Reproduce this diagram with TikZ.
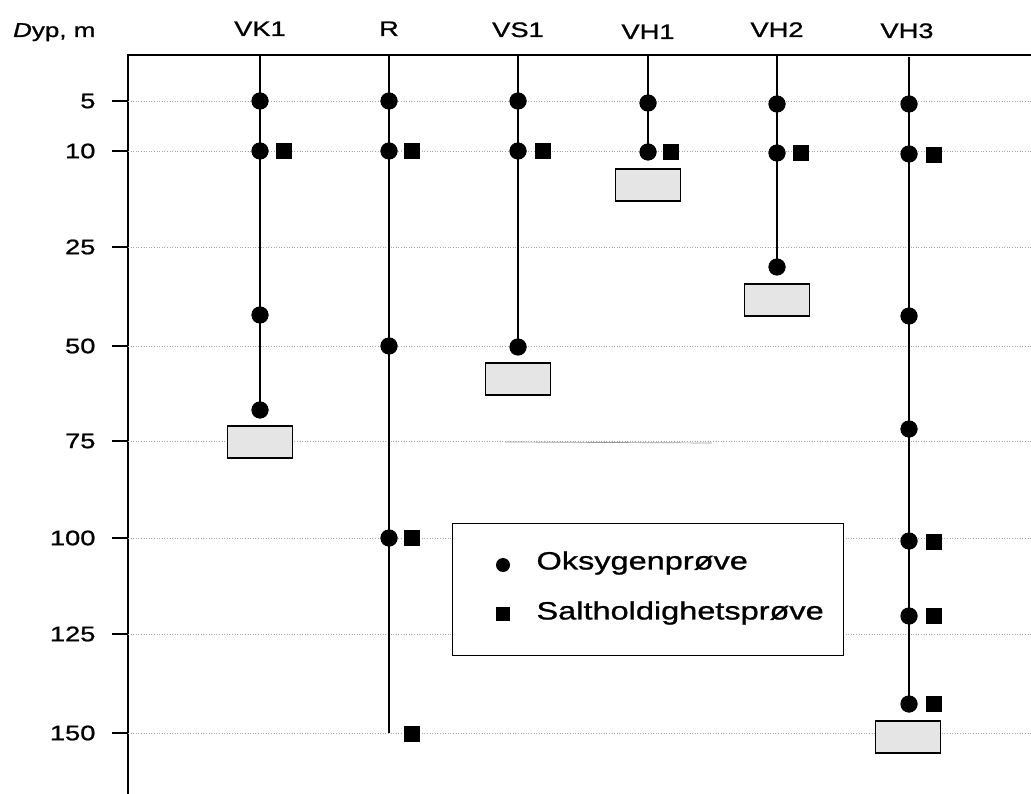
\documentclass[tikz,border=0pt]{standalone}
\usepackage{fontspec}
\setmainfont{Liberation Sans}[FakeStretch=1.3,FakeBold=1]
\begin{document}
\begin{tikzpicture}[x=1pt,y=-1pt,
  ox/.style={circle,fill=black,inner sep=0pt,minimum size=17pt},
  sal/.style={rectangle,fill=black,inner sep=0pt,minimum size=16pt},
  endbox/.style={rectangle,draw=black,line width=1.2pt,fill=gray!20,inner sep=0pt,minimum width=65pt,minimum height=32pt},
  grid/.style={gray!70,line width=0.6pt,dotted},
  col/.style={black,line width=1.4pt},
  lab/.style={font=\fontsize{21}{21}\selectfont,anchor=base},
  tick/.style={font=\fontsize{21}{21}\selectfont,anchor=east}]
\useasboundingbox (0,0) rectangle (1031,794);
% axes
\draw[line width=1.2pt] (128,794) -- (128,55) -- (1031,55);
% grid lines and ticks
\foreach \v/\y in {5/101,10/151,25/247,50/346,75/441,100/538,125/634,150/733}{
  \draw[grid] (128,\y) -- (1031,\y);
  \draw[line width=1.2pt] (112,\y) -- (128,\y);
  \node[tick] at (99,\y) {\v};
}
\draw[gray!80,line width=0.7pt] (505,442) -- (712,443);
% header
\node[lab,font=\fontsize{20}{20}\selectfont,anchor=base east] (hd) at (99,37) {\textit{D}yp, m};
\node[lab] (hvk1) at (260,36) {VK1};
\node[lab] (hr) at (389,36) {R};
\node[lab] (hvs1) at (518,37) {VS1};
\node[lab] (hvh1) at (648,39) {VH1};
\node[lab] (hvh2) at (777,37) {VH2};
\node[lab] (hvh3) at (907,38) {VH3};
% top coordinates
\coordinate (tvk1) at (260,55);
\coordinate (tr) at (389,55);
\coordinate (tvs1) at (518,55);
\coordinate (tvh1) at (648,56);
\coordinate (tvh2) at (777,56);
\coordinate (tvh3) at (909,57);
% VK1
\node[ox] (vk1a) at (260,101) {};
\node[ox] (vk1b) at (260,151) {};
\node[ox] (vk1c) at (260,315) {};
\node[ox] (vk1d) at (260,410) {};
\draw[col] (tvk1) -- (vk1d.center);
\node[sal] (vk1s) at (284,151) {};
\node[endbox] (vk1box) at (260,442) {};
% R
\node[ox] (ra) at (389,101) {};
\node[ox] (rb) at (389,151) {};
\node[ox] (rc) at (389,346) {};
\node[ox] (rd) at (389,538) {};
\coordinate (rend) at (389,733);
\draw[col] (tr) -- (rend);
\node[sal] (rs1) at (412,151) {};
\node[sal] (rs2) at (412,538) {};
\node[sal] (rs3) at (412,734) {};
% VS1
\node[ox] (vs1a) at (518,101) {};
\node[ox] (vs1b) at (518,151) {};
\node[ox] (vs1c) at (518,347) {};
\draw[col] (tvs1) -- (vs1c.center);
\node[sal] (vs1s) at (543,151) {};
\node[endbox] (vs1box) at (518,379) {};
% VH1
\node[ox] (vh1a) at (648,103) {};
\node[ox] (vh1b) at (648,152) {};
\draw[col] (tvh1) -- (vh1b.center);
\node[sal] (vh1s) at (671,152) {};
\node[endbox] (vh1box) at (648,185) {};
% VH2
\node[ox] (vh2a) at (777,104) {};
\node[ox] (vh2b) at (777,153) {};
\node[ox] (vh2c) at (777,267) {};
\draw[col] (tvh2) -- (vh2c.center);
\node[sal] (vh2s) at (801,153) {};
\node[endbox] (vh2box) at (777,300) {};
% VH3
\node[ox] (vh3a) at (909,104) {};
\node[ox] (vh3b) at (909,154) {};
\node[ox] (vh3c) at (909,316) {};
\node[ox] (vh3d) at (909,429) {};
\node[ox] (vh3e) at (909,541) {};
\node[ox] (vh3f) at (909,616) {};
\node[ox] (vh3g) at (909,704) {};
\draw[col] (tvh3) -- (vh3g.center);
\node[sal] (vh3s1) at (934,155) {};
\node[sal] (vh3s2) at (934,542) {};
\node[sal] (vh3s3) at (934,616) {};
\node[sal] (vh3s4) at (934,704) {};
\node[endbox] (vh3box) at (908,737) {};
% redraw markers over lines
\foreach \n in {vk1a,vk1b,vk1c,vk1d,ra,rb,rc,rd,vs1a,vs1b,vs1c,vh1a,vh1b,vh2a,vh2b,vh2c,vh3a,vh3b,vh3c,vh3d,vh3e,vh3f,vh3g}
  \fill (\n.center) circle (8.5pt);
% legend
\node[draw=black,line width=1pt,fill=white,minimum width=391pt,minimum height=132pt,inner sep=0pt] (leg) at (647.5,589) {};
\node[ox,minimum size=14pt] (legox) at (503,565) {};
\node[sal,minimum size=14pt] (legsal) at (503,614) {};
\node[anchor=west,font=\fontsize{25}{25}\selectfont] (legt1) at (533,563) {Oksygenprøve};
\node[anchor=west,font=\fontsize{25}{25}\selectfont] (legt2) at (533,613) {Saltholdighetsprøve};
\end{tikzpicture}
\end{document}
